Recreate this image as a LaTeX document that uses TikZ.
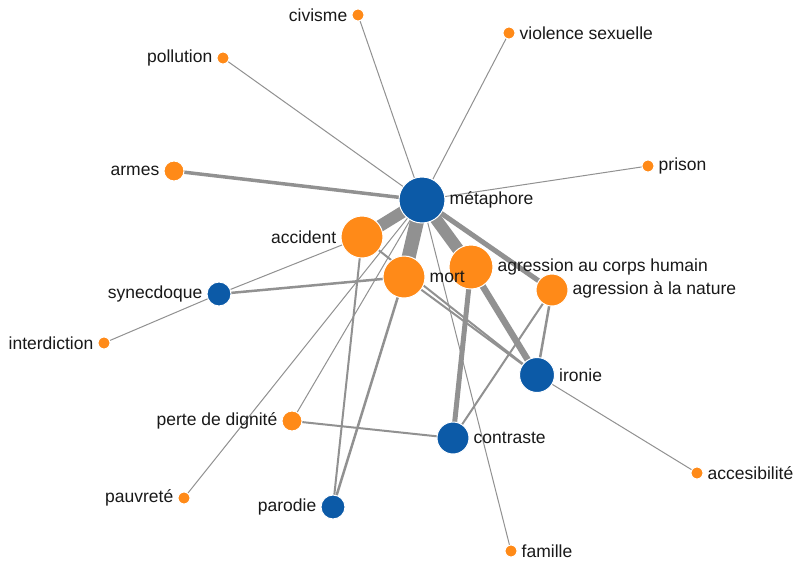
\documentclass[tikz,border=0pt]{standalone}
\usepackage{fontspec}
\setmainfont{Liberation Sans}
\pgfdeclarelayer{background}
\pgfsetlayers{background,main}
\definecolor{nblue}{RGB}{12,90,167}
\definecolor{norange}{RGB}{255,138,24}
\definecolor{egray}{RGB}{145,145,145}
\tikzset{
  nd/.style={circle, inner sep=0pt, minimum size=#1, line width=1pt},
  bn/.style={nd=#1, fill=nblue, draw=white},
  on/.style={nd=#1, fill=norange, draw=white},
  lbl/.style={font=\fontsize{17.5}{20}\selectfont, text=black!90, inner sep=0pt},
  every label/.style={lbl},
  label distance=4pt,
  ed/.style={draw=egray, line width=#1},
}
\begin{document}
\begin{tikzpicture}[x=1pt,y=-1pt]
\useasboundingbox (0,0) rectangle (796,563);
% nodes
\node[bn=46, label=east:métaphore] (met) at (422,200) {};
\node[on=42, label=west:accident] (acc) at (362,237) {};
\node[on=44, label=east:agression au corps humain] (ach) at (471,267) {};
\node[on=42, label=east:mort] (mort) at (404,277) {};
\node[on=32, label=east:agression à la nature] (anat) at (552,290) {};
\node[bn=35, label=east:ironie] (iro) at (537,375) {};
\node[bn=32, label=east:contraste] (con) at (453,438) {};
\node[bn=24, label=west:synecdoque] (syn) at (219,294) {};
\node[on=12, label=west:interdiction] (inter) at (104,343) {};
\node[on=20, label=west:perte de dignité] (pdg) at (292,421) {};
\node[on=12, label=west:pauvreté] (pauv) at (184,498) {};
\node[bn=24, label=west:parodie] (par) at (333,507) {};
\node[on=12, label=east:famille] (fam) at (511,551) {};
\node[on=12, label=east:accesibilité] (acce) at (697,473) {};
\node[on=20, label=west:armes] (arm) at (174,171) {};
\node[on=12, label=west:pollution] (poll) at (223,58) {};
\node[on=12, label=west:civisme] (civ) at (358,15) {};
\node[on=12, label=east:violence sexuelle] (vs) at (509,33) {};
\node[on=12, label=east:prison] (pri) at (648,166) {};
% edges
\begin{pgfonlayer}{background}
\fill[white] (0,0) rectangle (796,563);
\draw[ed=1] (met.center) -- (civ.center);
\draw[ed=1] (met.center) -- (poll.center);
\draw[ed=1] (met.center) -- (vs.center);
\draw[ed=1] (met.center) -- (pri.center);
\draw[ed=3.5] (met.center) -- (arm.center);
\draw[ed=1] (met.center) -- (fam.center);
\draw[ed=1] (met.center) -- (pauv.center);
\draw[ed=1] (met.center) -- (pdg.center);
\draw[ed=5] (met.center) -- (anat.center);
\draw[ed=12] (met.center) -- (acc.center);
\draw[ed=14] (met.center) -- (mort.center);
\draw[ed=12] (met.center) -- (ach.center);
\draw[ed=6.5] (ach.center) -- (iro.center);
\draw[ed=5] (ach.center) -- (con.center);
\draw[ed=2] (anat.center) -- (con.center);
\draw[ed=2.5] (anat.center) -- (iro.center);
\draw[ed=2] (con.center) -- (pdg.center);
\draw[ed=2] (acc.center) -- (iro.center);
\draw[ed=2] (mort.center) -- (iro.center);
\draw[ed=2.5] (syn.center) -- (mort.center);
\draw[ed=1] (syn.center) -- (acc.center);
\draw[ed=1] (inter.center) -- (syn.center);
\draw[ed=2] (acc.center) -- (par.center);
\draw[ed=2.5] (mort.center) -- (par.center);
\draw[ed=1] (iro.center) -- (acce.center);
\end{pgfonlayer}
\end{tikzpicture}
\end{document}
